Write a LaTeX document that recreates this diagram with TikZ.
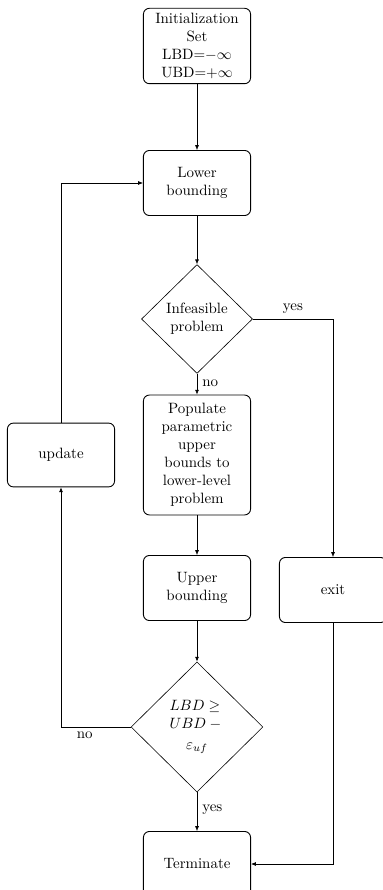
\documentclass[tikz,border=0pt]{standalone}
\usepackage{amsmath, amssymb}
\usepackage{tikz}
\usetikzlibrary{arrows.meta, positioning, shapes.geometric}

\tikzset{
  block/.style={draw, rounded corners=4pt, align=center, minimum width=2.52cm, semithick},
  decision/.style={draw, diamond, aspect=1, align=center, inner sep=0pt},
  line/.style={draw, -{Latex[length=3.2pt, width=2.6pt]}},
  plain/.style={draw}
}

\begin{document}
\begin{tikzpicture}[x=0.02352cm, y=-0.02352cm]
      \useasboundingbox (0,0) rectangle (382,890);
      % main column
      \node[block] (init) at (197,46) {Initialization\\Set\\LBD=$-\infty$\\UBD=$+\infty$};
      \node[block, minimum height=1.53cm] (lower) at (197,183) {Lower\\bounding};
      \node[decision, minimum width=2.61cm, minimum height=2.56cm] (infeas) at (197,319) {Infeasible\\problem};
      \node[block, minimum height=2.82cm] (populate) at (197,455) {Populate\\parametric\\upper\\bounds to\\lower-level\\problem};
      \node[block, minimum height=1.53cm] (upper) at (197,588) {Upper\\bounding};
      \node[decision, minimum width=3.1cm, minimum height=3.06cm] (cond) at (197,727) {$LBD \geq{}$\\$UBD -{}$\\[2pt]$\varepsilon_{uf}$};
      \node[block, minimum height=1.53cm] (term) at (197,864) {Terminate};
      % side boxes
      \node[block, minimum height=1.5cm] (update) at (61,455) {update};
      \node[block, minimum height=1.53cm] (exit) at (333,590) {exit};

      \path[line] (init) -- (lower);
      \path[line] (lower) -- (infeas);
      \path[line] (infeas) -- node[right, pos=0.45] {no} (populate);
      \path[line] (infeas.east) -| node[above, pos=0.25] {yes} (exit.north);
      \path[line] (populate) -- (upper);
      \path[line] (upper) -- (cond);
      \path[line] (cond) -- node[right, pos=0.45] {yes} (term);
      \path[line] (cond.west) -| node[below, pos=0.33] {no} (update.south);
      \path[line] (update.north) |- (lower.west);
      \path[line] (exit.south) |- (term.east);
    \end{tikzpicture}
\end{document}
